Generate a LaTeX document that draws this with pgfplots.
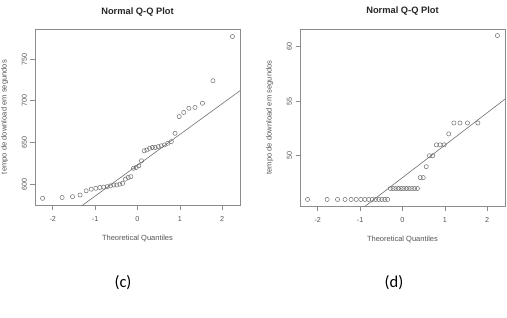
\documentclass[border=0pt]{standalone}
\usepackage{fontspec}
\setmainfont{Liberation Sans}
\newfontfamily\calibri{Carlito}
\usepackage{pgfplots}
\pgfplotsset{compat=1.18}
\definecolor{boxgray}{HTML}{8C8C8C}
\definecolor{txtgray}{HTML}{555555}
\definecolor{ptgray}{HTML}{6E6E6E}
\pgfplotsset{every axis title shift=0pt}
\pgfplotsset{qq/.style={
  scale only axis, width=205pt, anchor=south west,
  axis line style={boxgray, line width=0.8pt},
  xmin=-2.42, xmax=2.42,
  xtick={-2,-1,0,1,2}, xticklabels={-2,-1,0,1,2},
  tick align=outside, major tick length=4.5pt,
  xtick pos=left, ytick pos=left,
  tick style={boxgray, line width=0.6pt},
  ticklabel style={font=\fontsize{7.2}{8}\selectfont, text=txtgray},
  xticklabel style={yshift=-3.5pt},
  yticklabel style={rotate=90, anchor=south},
  /pgf/number format/assume math mode=true,
  title style={font=\bfseries\fontsize{9.3}{11}\selectfont, text=black!85, at={(axis description cs:0.5,1.085)}, anchor=base},
  xlabel style={font=\fontsize{7.5}{9}\selectfont, text=txtgray, at={(axis description cs:0.5,-0.203)}, anchor=base},
  ylabel style={font=\fontsize{7.6}{9}\selectfont, text=txtgray, at={(axis description cs:-0.138,0.5)}, anchor=base},
  title={Normal Q-Q Plot},
  xlabel={Theoretical Quantiles},
  ylabel={tempo de download em segundos},
}}
\begin{document}
\begin{tikzpicture}
\path[use as bounding box] (0,0) rectangle (507pt,317pt);
\begin{axis}[qq, at={(35pt,112pt)}, height=176pt,
  ymin=575, ymax=786, ytick={600,650,700,750}]
\addplot[ptgray, line width=0.6pt, no marks] coordinates {(-2.42,533.3) (2.42,712.0)};
\addplot[only marks, mark=o, mark size=2.1pt, mark options={ptgray, line width=0.5pt}] coordinates {
(-2.241,583) (-1.780,584) (-1.534,585) (-1.356,587) (-1.213,592)
(-1.092,594) (-0.984,595) (-0.887,596) (-0.798,596.5) (-0.714,597)
(-0.636,598) (-0.561,599) (-0.489,599) (-0.419,600) (-0.352,601)
(-0.286,606) (-0.221,608) (-0.157,609) (-0.094,619) (-0.031,620)
(0.031,622) (0.094,628) (0.157,640) (0.221,641) (0.286,643)
(0.352,644) (0.419,644) (0.489,645) (0.561,646) (0.636,647)
(0.714,649) (0.798,651) (0.887,661) (0.984,681) (1.092,686)
(1.213,691) (1.356,692) (1.534,697) (1.780,724) (2.241,777)};
\end{axis}
\begin{axis}[qq, at={(300pt,111pt)}, height=177pt,
  ymin=45.4, ymax=61.6, ytick={50,55,60}]
\addplot[ptgray, line width=0.6pt, no marks] coordinates {(-2.42,40.82) (2.42,55.18)};
\addplot[only marks, mark=o, mark size=2.1pt, mark options={ptgray, line width=0.5pt}] coordinates {
(-2.241,46) (-1.780,46) (-1.534,46) (-1.356,46) (-1.213,46)
(-1.092,46) (-0.984,46) (-0.887,46) (-0.798,46) (-0.714,46)
(-0.636,46) (-0.561,46) (-0.489,46) (-0.419,46) (-0.352,46)
(-0.286,47) (-0.221,47) (-0.157,47) (-0.094,47) (-0.031,47)
(0.031,47) (0.094,47) (0.157,47) (0.221,47) (0.286,47)
(0.352,47) (0.419,48) (0.489,48) (0.561,49) (0.636,50)
(0.714,50) (0.798,51) (0.887,51) (0.984,51) (1.092,52)
(1.213,53) (1.356,53) (1.534,53) (1.780,53) (2.241,61)};
\end{axis}
\node at (123pt,34pt) {\calibri\fontsize{16.5}{19}\selectfont (c)};
\node at (394pt,34pt) {\calibri\fontsize{16.5}{19}\selectfont (d)};
\end{tikzpicture}
\end{document}
